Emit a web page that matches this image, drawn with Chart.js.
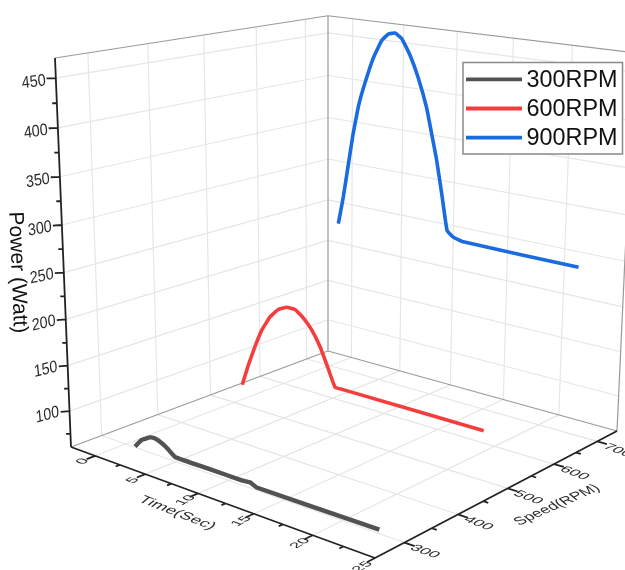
<!DOCTYPE html>
<html lang="en">
<head>
  <meta charset="UTF-8" />
  <title>Power vs Time and Speed</title>
  <script src="https://cdn.jsdelivr.net/npm/chart.js"></script>
  <style>
    html, body { margin: 0; padding: 0; background: #fff; }
    canvas { display: block; }
  </style>
</head>
<body>
  <canvas id="powerChart" width="625" height="570"></canvas>

  <script>
    // values
    const seriesNames = ['300RPM', '600RPM', '900RPM'];
    const seriesColors = ['#525252', '#f53d3d', '#1a6ae0'];
    const seriesDepth = [300, 500, 700]; // where each series sits on the speed axis

    const time300 = [0.95, 1.65, 2.5, 2.9, 3.4, 4.14, 4.94, 8.13, 11.23, 11.98, 12.58, 23];
    const power300 = [61, 71, 77, 78, 76.5, 72, 65, 65, 65, 66, 63, 64];
    const time600 = [0.85, 1.49, 2.19, 2.88, 3.72, 4.54, 5.36, 6.16, 6.95, 7.75, 8.53, 9.16, 9.95, 10.6, 22.94];
    const power600 = [84, 109, 133, 154, 172, 183, 188, 188, 181, 170, 154, 136, 113, 113, 113];
    const time900 = [0.84, 1.34, 1.83, 2.3, 2.8, 3.28, 4.23, 5.03, 5.65, 6.28, 6.91, 7.7, 8.5, 9.32, 9.8, 10.31, 10.82, 11.38, 11.96, 12.88, 22.88];
    const power900 = [237, 270, 309, 346, 378, 400, 436, 457, 465, 467, 462, 445, 421, 389, 362, 333, 297, 256, 250, 247, 246];

    const timeTicks = [0, 5, 10, 15, 20, 25];
    const timeMinor = [2.5, 7.5, 12.5, 17.5, 22.5];
    const speedTicks = [300, 400, 500, 600, 700];
    const speedMinor = [350, 450, 550, 650];
    const powerTicks = [100, 150, 200, 250, 300, 350, 400, 450];
    const powerMinor = [75, 125, 175, 225, 275, 325, 375, 425];

    const tMin = -2.5, tMax = 25, sMin = 248, sMax = 748, pMin = 60, pMax = 470;

    // box corners on the page: floor left, front, right, back, then top of left edge
    const floorQuad = [[71, 447], [375, 558], [617, 431], [328, 351]];
    const topLeft = [55, 58];
    const topBack = [328, 15];

    // perspective box -> page pixels
    const [x0, y0] = floorQuad[0], [x1, y1] = floorQuad[1], [x2, y2] = floorQuad[2], [x3, y3] = floorQuad[3];
    const dx1 = x1 - x2, dx2 = x3 - x2, sumX = x0 - x1 + x2 - x3;
    const dy1 = y1 - y2, dy2 = y3 - y2, sumY = y0 - y1 + y2 - y3;
    const den = dx1 * dy2 - dx2 * dy1;
    const g = (sumX * dy2 - dx2 * sumY) / den, h = (dx1 * sumY - sumX * dy1) / den;
    const a = x1 - x0 + g * x1, b = x3 - x0 + h * x3;
    const d = y1 - y0 + g * y1, e = y3 - y0 + h * y3;
    const C = (b + topLeft[0] - topBack[0] * (1 + h)) / (topBack[0] - topLeft[0]);
    const A = topLeft[0] * (1 + C) - x0, D = topLeft[1] * (1 + C) - y0;

    function project(t, s, p) {
      const u = (t - tMin) / (tMax - tMin), v = (s - sMin) / (sMax - sMin), z = (p - pMin) / (pMax - pMin);
      const w = g * u + h * v + 1 + C * z;
      return { x: (a * u + b * v + x0 + A * z) / w, y: (d * u + e * v + y0 + D * z) / w };
    }

    const GAP = { x: NaN, y: NaN };
    const segs = list => list.flatMap(([p, q]) => [project(...p), project(...q), GAP]);

    function lineSet(data, color, width, extra) {
      return Object.assign({
        data, borderColor: color, borderWidth: width, pointRadius: 0,
        showLine: true, spanGaps: false, tension: 0, fill: false
      }, extra);
    }

    const gridSegs = segs([
      ...speedTicks.map(s => [[tMin, s, pMin], [tMax, s, pMin]]),
      ...timeTicks.slice(0, 5).map(t => [[t, sMin, pMin], [t, sMax, pMin]]),
      ...speedTicks.map(s => [[tMin, s, pMin], [tMin, s, pMax]]),
      ...timeTicks.slice(0, 5).map(t => [[t, sMax, pMin], [t, sMax, pMax]]),
      ...powerTicks.map(p => [[tMin, sMin, p], [tMin, sMax, p]]),
      ...powerTicks.map(p => [[tMin, sMax, p], [tMax, sMax, p]])
    ]);

    const wallSegs = segs([
      [[tMin, sMin, pMin], [tMin, sMax, pMin]], [[tMin, sMax, pMin], [tMax, sMax, pMin]],
      [[tMin, sMin, pMax], [tMin, sMax, pMax]], [[tMin, sMax, pMax], [tMax, sMax, pMax]],
      [[tMin, sMax, pMin], [tMin, sMax, pMax]], [[tMax, sMax, pMin], [tMax, sMax, pMax]]
    ]);

    const timeLen = 14, speedLen = 0.8, powerLenT = 0.35, powerLenS = 9;
    const axisSegs = segs([
      [[tMin, sMin, pMin], [tMin, sMin, pMax]],
      [[tMin, sMin, pMin], [tMax, sMin, pMin]],
      [[tMax, sMin, pMin], [tMax, sMax, pMin]],
      ...timeTicks.map(t => [[t, sMin, pMin], [t, sMin - timeLen, pMin]]),
      ...timeMinor.map(t => [[t, sMin, pMin], [t, sMin - timeLen / 2, pMin]]),
      ...speedTicks.map(s => [[tMax, s, pMin], [tMax + speedLen, s, pMin]]),
      ...speedMinor.map(s => [[tMax, s, pMin], [tMax + speedLen / 2, s, pMin]]),
      ...powerTicks.map(p => [[tMin, sMin, p], [tMin - powerLenT, sMin - powerLenS, p]]),
      ...powerMinor.map(p => [[tMin, sMin, p], [tMin - powerLenT / 2, sMin - powerLenS / 2, p]])
    ]);

    const curve = (times, powers, s) => times.map((t, i) => project(t, s, powers[i]));

    const datasets = [
      lineSet(curve(time900, power900, seriesDepth[2]), seriesColors[2], 3.6, { label: seriesNames[2], order: 1, tension: 0.1 }),
      lineSet(curve(time600, power600, seriesDepth[1]), seriesColors[1], 3.6, { label: seriesNames[1], order: 2, tension: 0.1 }),
      lineSet(curve(time300, power300, seriesDepth[0]), seriesColors[0], 4.4, { label: seriesNames[0], order: 3, tension: 0.1 }),
      lineSet(axisSegs, '#222', 1.8, { order: 4 }),
      lineSet(wallSegs, '#9a9a9a', 1.2, { order: 5 }),
      lineSet(gridSegs, '#e6e6e6', 1.2, { order: 6 })
    ];

    // text laid into the box planes: ux,uy = reading direction, vx,vy = glyph downward
    function planeText(ctx, text, x, y, ux, uy, vx, vy, font, color) {
      ctx.save();
      ctx.transform(ux, uy, vx, vy, x, y);
      ctx.font = font;
      ctx.fillStyle = color;
      ctx.textAlign = 'center';
      ctx.textBaseline = 'middle';
      ctx.fillText(text, 0, 0);
      ctx.restore();
    }

    const boxLabels = {
      id: 'boxLabels',
      afterDatasetsDraw(chart) {
        const ctx = chart.ctx;
        const font = '17px "Liberation Sans"';
        const ink = '#2a2a2a';

        powerTicks.forEach(p => {
          const q = project(tMin, sMin, p);
          const z = (p - pMin) / (pMax - pMin);
          const ang = (-16 + 9 * z) * Math.PI / 180;
          planeText(ctx, String(p), q.x - 22, q.y + 4, 0.85 * Math.cos(ang), 0.85 * Math.sin(ang), 0.1, 0.98, font, ink);
        });

        timeTicks.forEach(t => {
          const q = project(t, sMin, pMin);
          planeText(ctx, String(t), q.x - 12.5, q.y + 5.5 + 0.12 * (t + 1), 0.78, -0.46, 0.72, 0.26, font, ink);
        });

        speedTicks.forEach(s => {
          const q = project(tMax, s, pMin);
          planeText(ctx, String(s), q.x + 20.5, q.y + 9, 0.92, 0.34, -0.6, 0.42, font, ink);
        });

        planeText(ctx, 'Time(Sec)', 177, 513, 0.92, 0.36, -0.62, 0.5, '17.5px "Liberation Sans"', ink);
        planeText(ctx, 'Speed(RPM)', 557, 505, 0.81, -0.36, 0.62, 0.52, '17.5px "Liberation Sans"', ink);
        planeText(ctx, 'Power (Watt)', 17.5, 272.5, 0.04, 1, -1, 0.04, '21px "Liberation Sans"', '#111');

        // legend box
        ctx.save();
        ctx.fillStyle = '#fff';
        ctx.strokeStyle = '#8a8a8a';
        ctx.lineWidth = 1.5;
        ctx.fillRect(463, 62.5, 159.5, 91.5);
        ctx.strokeRect(463, 62.5, 159.5, 91.5);
        ctx.font = '23.4px "Liberation Sans"';
        ctx.textBaseline = 'middle';
        seriesNames.forEach((name, i) => {
          const rowY = 79.3 + i * 29.2;
          ctx.strokeStyle = seriesColors[i];
          ctx.lineWidth = 3.8;
          ctx.beginPath();
          ctx.moveTo(466, rowY);
          ctx.lineTo(522, rowY);
          ctx.stroke();
          ctx.fillStyle = '#111';
          ctx.fillText(name, 526.5, rowY + 1);
        });
        ctx.restore();
      }
    };

    new Chart(document.getElementById('powerChart').getContext('2d'), {
      type: 'scatter',
      data: { datasets },
      options: {
        responsive: false,
        animation: false,
        layout: { padding: 0 },
        clip: false,
        plugins: { legend: { display: false }, tooltip: { enabled: false } },
        scales: {
          x: { type: 'linear', min: 0, max: 625, display: false },
          y: { type: 'linear', min: 0, max: 570, reverse: true, display: false }
        }
      },
      plugins: [boxLabels]
    });
  </script>
</body>
</html>
